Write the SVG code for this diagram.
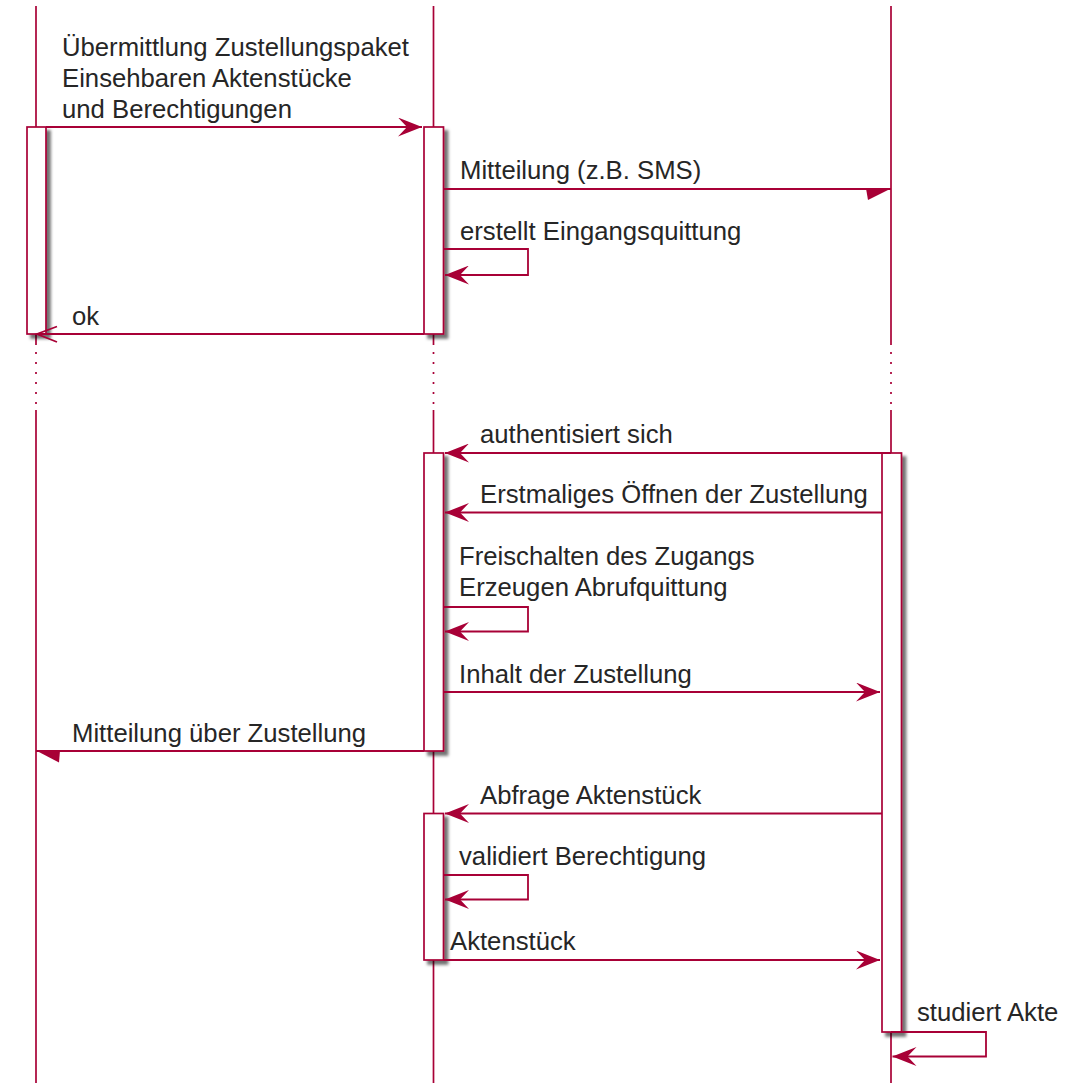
<svg xmlns="http://www.w3.org/2000/svg" width="1069" height="1083" viewBox="0 0 1069 1083">
  <style>
    .life { stroke: #A80036; stroke-width: 1.7; fill: none; }
    .dots { stroke: #A80036; stroke-width: 1.7; fill: none; stroke-dasharray: 2 8; }
    .act { fill: #FFFFFF; stroke: #A80036; stroke-width: 1.7; filter: url(#shadow); }
    .msg { stroke: #A80036; stroke-width: 1.8; fill: none; }
    .head { fill: #A80036; stroke: none; }
    .lbl { font-family: "Liberation Sans", Arial, sans-serif; font-size: 25.7px; fill: #262626; }
  </style>
  <defs>
    <filter id="shadow" x="-50%" y="-10%" width="200%" height="120%">
      <feGaussianBlur in="SourceAlpha" stdDeviation="1.5"/>
      <feOffset dx="4" dy="4" result="off"/>
      <feFlood flood-color="#000000" flood-opacity="0.55"/>
      <feComposite in2="off" operator="in"/>
      <feMerge>
        <feMergeNode/>
        <feMergeNode in="SourceGraphic"/>
      </feMerge>
    </filter>
    <marker id="arrow" markerUnits="userSpaceOnUse" viewBox="0 0 24 19" refX="24" refY="9.5" markerWidth="24" markerHeight="19" orient="auto">
      <path d="M0,0 L24,9.5 L0,19 L9,9.5 Z" fill="#A80036"/>
    </marker>
  </defs>

  <!-- lifelines -->
  <g id="lifelines">
    <g id="lifeline-left">
      <line class="life" x1="36" y1="6" x2="36" y2="345"/>
      <line class="dots" x1="36" y1="352" x2="36" y2="408"/>
      <line class="life" x1="36" y1="410" x2="36" y2="1083"/>
    </g>
    <g id="lifeline-middle">
      <line class="life" x1="433.5" y1="6" x2="433.5" y2="345"/>
      <line class="dots" x1="433.5" y1="352" x2="433.5" y2="408"/>
      <line class="life" x1="433.5" y1="410" x2="433.5" y2="1083"/>
    </g>
    <g id="lifeline-right">
      <line class="life" x1="891" y1="6" x2="891" y2="345"/>
      <line class="dots" x1="891" y1="352" x2="891" y2="408"/>
      <line class="life" x1="891" y1="410" x2="891" y2="1083"/>
    </g>
  </g>

  <!-- activation bars -->
  <g id="activation-left-1"><rect class="act" x="27" y="127" width="19" height="207"/></g>
  <g id="activation-middle-1"><rect class="act" x="424" y="127" width="19.5" height="207"/></g>
  <g id="activation-middle-2"><rect class="act" x="424" y="453" width="19.5" height="298"/></g>
  <g id="activation-middle-3"><rect class="act" x="424" y="813.5" width="19.5" height="146.5"/></g>
  <g id="activation-right-1"><rect class="act" x="882" y="453" width="19.5" height="579"/></g>

  <!-- messages -->
  <g id="connectors">
    <g id="msg-uebermittlung">
      <line class="msg" x1="46" y1="127" x2="422" y2="127" marker-end="url(#arrow)"/>
      <text class="lbl" x="62" y="56">Übermittlung Zustellungspaket</text>
      <text class="lbl" x="62" y="87">Einsehbaren Aktenstücke</text>
      <text class="lbl" x="62" y="118">und Berechtigungen</text>
    </g>
    <g id="msg-mitteilung-sms">
      <line class="msg" x1="443.5" y1="189" x2="891" y2="189"/>
      <polygon class="head" points="891,188.5 866,188.5 868,200"/>
      <text class="lbl" x="460" y="179">Mitteilung (z.B. SMS)</text>
    </g>
    <g id="msg-eingangsquittung">
      <polyline class="msg" points="443.5,249 528,249 528,275 445,275" marker-end="url(#arrow)"/>
      <text class="lbl" x="460" y="240">erstellt Eingangsquittung</text>
    </g>
    <g id="msg-ok">
      <line class="msg" x1="424" y1="334" x2="37" y2="334"/>
      <polyline class="msg" points="57,326.5 37,334 57,342"/>
      <text class="lbl" x="72" y="325">ok</text>
    </g>
    <g id="msg-authentisiert">
      <line class="msg" x1="891" y1="453" x2="445" y2="453" marker-end="url(#arrow)"/>
      <text class="lbl" x="480" y="443">authentisiert sich</text>
    </g>
    <g id="msg-erstmaliges-oeffnen">
      <line class="msg" x1="882" y1="512.5" x2="445" y2="512.5" marker-end="url(#arrow)"/>
      <text class="lbl" x="480" y="503">Erstmaliges Öffnen der Zustellung</text>
    </g>
    <g id="msg-freischalten">
      <polyline class="msg" points="443.5,607 528,607 528,631.5 445,631.5" marker-end="url(#arrow)"/>
      <text class="lbl" x="459" y="565">Freischalten des Zugangs</text>
      <text class="lbl" x="459" y="596">Erzeugen Abrufquittung</text>
    </g>
    <g id="msg-inhalt">
      <line class="msg" x1="443.5" y1="692" x2="880" y2="692" marker-end="url(#arrow)"/>
      <text class="lbl" x="459" y="683">Inhalt der Zustellung</text>
    </g>
    <g id="msg-mitteilung-ueber">
      <line class="msg" x1="424" y1="751" x2="36" y2="751"/>
      <polygon class="head" points="36,750.5 60,750.5 59,762.5"/>
      <text class="lbl" x="72" y="742">Mitteilung über Zustellung</text>
    </g>
    <g id="msg-abfrage">
      <line class="msg" x1="882" y1="813.5" x2="445" y2="813.5" marker-end="url(#arrow)"/>
      <text class="lbl" x="480" y="804">Abfrage Aktenstück</text>
    </g>
    <g id="msg-validiert">
      <polyline class="msg" points="443.5,875 528,875 528,899.5 445,899.5" marker-end="url(#arrow)"/>
      <text class="lbl" x="459" y="865">validiert Berechtigung</text>
    </g>
    <g id="msg-aktenstueck">
      <line class="msg" x1="443.5" y1="960" x2="880" y2="960" marker-end="url(#arrow)"/>
      <text class="lbl" x="450" y="950">Aktenstück</text>
    </g>
    <g id="msg-studiert">
      <polyline class="msg" points="891,1032 986,1032 986,1056.5 892.5,1056.5" marker-end="url(#arrow)"/>
      <text class="lbl" x="917" y="1021">studiert Akte</text>
    </g>
  </g>
</svg>
